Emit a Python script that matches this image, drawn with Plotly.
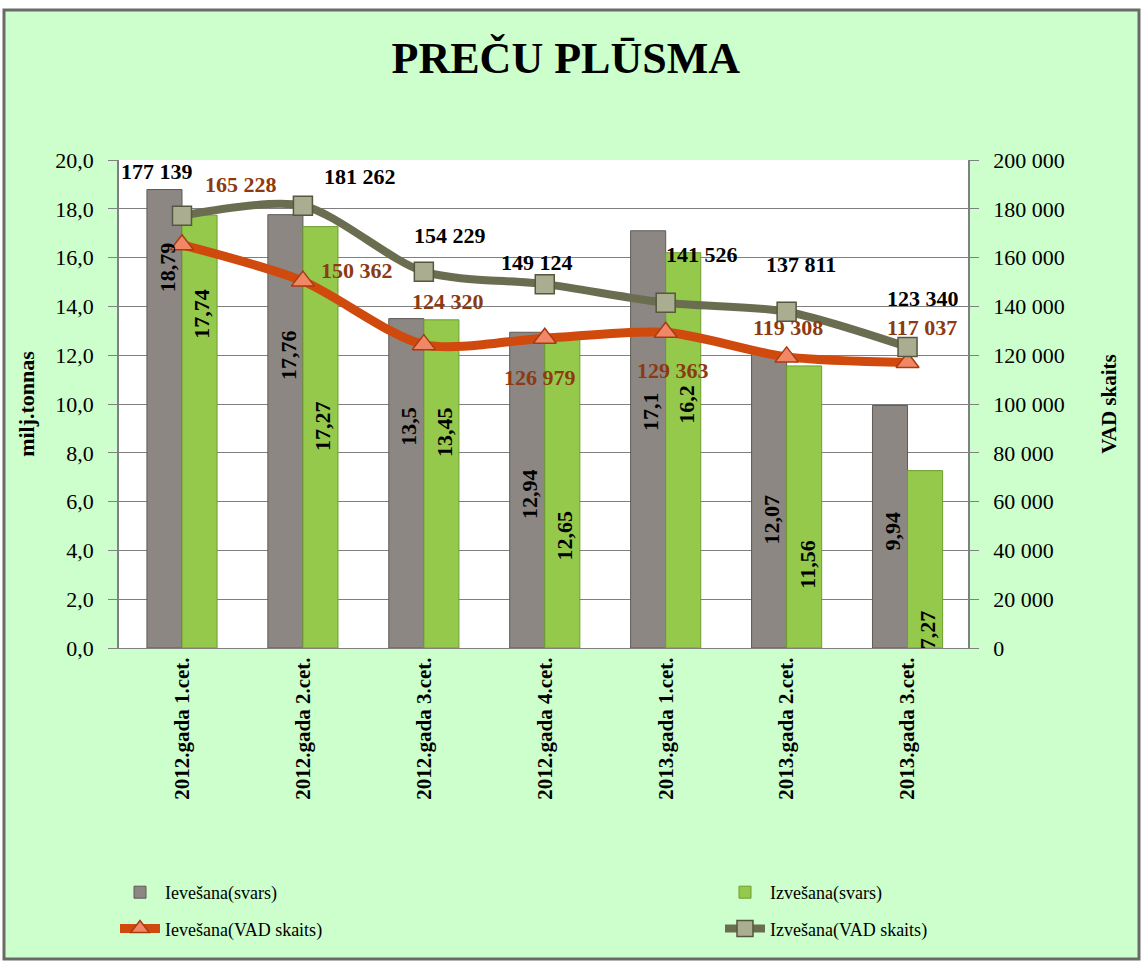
import plotly.graph_objects as go
from plotly.subplots import make_subplots

# ---------------- data ----------------
categories = ["2012.gada 1.cet.", "2012.gada 2.cet.", "2012.gada 3.cet.", "2012.gada 4.cet.",
              "2013.gada 1.cet.", "2013.gada 2.cet.", "2013.gada 3.cet."]
ieveshana_svars = [18.79, 17.76, 13.5, 12.94, 17.1, 12.07, 9.94]
izveshana_svars = [17.74, 17.27, 13.45, 12.65, 16.2, 11.56, 7.27]
ieveshana_vad = [165228, 150362, 124320, 126979, 129363, 119308, 117037]
izveshana_vad = [177139, 181262, 154229, 149124, 141526, 137811, 123340]

left_ticks = [0, 2, 4, 6, 8, 10, 12, 14, 16, 18, 20]
right_ticks = [0, 20000, 40000, 60000, 80000, 100000, 120000, 140000, 160000, 180000, 200000]

# ---------------- label placement (layout only) ----------------
gray_label_y = [15.6, 12.0, 9.1, 6.3, 9.7, 5.25, 4.8]
green_label_y = [13.7, 9.1, 8.85, 4.6, 10.0, 3.4, 0.75]
izv_vad_shift = [(-25, 44), (57, 29), (26, 36), (-8, 22), (36, 48), (14, 47), (15, 49)]
iev_vad_shift = [(59, 60), (54, 11), (24, 43), (-5, -39), (7, -38), (1, 29), (14, 35)]

SERIF = "Liberation Serif, Times New Roman, serif"
W, H = 1143, 961
L, R, T, B = 119, 175, 160, 313

def fmt_int(v):
    return f"{v:,}".replace(",", " ")

def fmt_dec(v):
    return f"{v:g}".replace(".", ",")

fig = make_subplots(specs=[[{"secondary_y": True}]])

fig.add_trace(go.Bar(x=categories, y=ieveshana_svars, name="Ievešana(svars)",
                     legend="legend", legendgroup="a",
                     marker=dict(color="#8C8782", line=dict(color="#5E5A56", width=1))),
              secondary_y=False)
fig.add_trace(go.Bar(x=categories, y=izveshana_svars, name="Izvešana(svars)",
                     legend="legend2", legendgroup="b",
                     marker=dict(color="#94C94C", line=dict(color="#6E9E2E", width=1))),
              secondary_y=False)
fig.add_trace(go.Scatter(x=categories, y=ieveshana_vad, name="Ievešana(VAD skaits)",
                         legend="legend", legendgroup="c",
                         mode="lines+markers",
                         line=dict(color="#D04A0E", width=9, shape="spline", smoothing=0.8),
                         marker=dict(symbol="triangle-up", size=20, color="#F08868",
                                     line=dict(color="#A83A10", width=1.5))),
              secondary_y=True)
fig.add_trace(go.Scatter(x=categories, y=izveshana_vad, name="Izvešana(VAD skaits)",
                         legend="legend2", legendgroup="d",
                         mode="lines+markers",
                         line=dict(color="#6B6D50", width=8, shape="spline", smoothing=0.8),
                         marker=dict(symbol="square", size=19, color="#ABAD90",
                                     line=dict(color="#55573E", width=1.5))),
              secondary_y=True)

LABEL_FONT = 22
annotations = []
for i, c in enumerate(categories):
    annotations.append(dict(x=c, y=gray_label_y[i], xref="x", yref="y", xshift=-15,
                            text=fmt_dec(ieveshana_svars[i]), textangle=-90, showarrow=False,
                            font=dict(family=SERIF, size=LABEL_FONT, color="black", weight="bold")))
    annotations.append(dict(x=c, y=green_label_y[i], xref="x", yref="y", xshift=20,
                            text=fmt_dec(izveshana_svars[i]), textangle=-90, showarrow=False,
                            font=dict(family=SERIF, size=LABEL_FONT, color="black", weight="bold")))
    dx, dy = izv_vad_shift[i]
    annotations.append(dict(x=c, y=izveshana_vad[i], xref="x", yref="y2", xshift=dx, yshift=dy,
                            text=fmt_int(izveshana_vad[i]), showarrow=False,
                            font=dict(family=SERIF, size=LABEL_FONT, color="black", weight="bold")))
    dx, dy = iev_vad_shift[i]
    annotations.append(dict(x=c, y=ieveshana_vad[i], xref="x", yref="y2", xshift=dx, yshift=dy,
                            text=fmt_int(ieveshana_vad[i]), showarrow=False,
                            font=dict(family=SERIF, size=LABEL_FONT, color="#8B3A12", weight="bold")))

pw, ph = W - L - R, H - T - B
def px_x(p):
    return (p - L) / pw
def px_y(p):
    return (H - B - p) / ph

shapes = [
    dict(type="rect", xref="paper", yref="paper", layer="below",
         x0=px_x(4), x1=px_x(1139), y0=px_y(10), y1=px_y(959),
         fillcolor="#CCFFCC", line=dict(color="#6A6A6A", width=3)),
    dict(type="rect", xref="paper", yref="paper", layer="below",
         x0=0, x1=1, y0=0, y1=1, fillcolor="white", line=dict(width=0)),
]

legend_common = dict(orientation="v", xanchor="left", yanchor="top",
                     bgcolor="rgba(0,0,0,0)", itemwidth=40, tracegroupgap=10,
                     font=dict(family=SERIF, size=18, color="black"))

fig.update_layout(
    width=W, height=H,
    margin=dict(l=L, r=R, t=T, b=B, autoexpand=False),
    paper_bgcolor="white",
    plot_bgcolor="rgba(0,0,0,0)",
    separators=", ",
    barmode="group", bargap=0.42, bargroupgap=0,
    title=dict(text="<b>PREČU PLŪSMA</b>", x=0.495, xanchor="center", yanchor="middle",
               y=1 - 58 / H, font=dict(family=SERIF, size=44, color="black")),
    font=dict(family=SERIF, color="black"),
    legend=dict(x=px_x(115), y=px_y(874), **legend_common),
    legend2=dict(x=px_x(720), y=px_y(874), **legend_common),
    annotations=annotations,
    shapes=shapes,
)

fig.update_xaxes(type="category", domain=[0, 1], tickangle=-90, showline=True,
                 linecolor="#808080", linewidth=1, ticks="", showgrid=False, automargin=False,
                 tickfont=dict(family=SERIF, size=21, color="black", weight="bold"))
fig.update_yaxes(range=[0, 20], tickvals=left_ticks, tickformat=".1f", automargin=False,
                 showline=True, linecolor="#808080", linewidth=1.5,
                 ticks="outside", ticklen=9, tickcolor="#808080", ticklabelstandoff=10,
                 showgrid=True, gridcolor="#7F7F7F", gridwidth=1, zeroline=False,
                 tickfont=dict(family=SERIF, size=22, color="black"),
                 title=dict(text="<b>milj.tonnas</b>", standoff=15,
                            font=dict(family=SERIF, size=22, color="black")),
                 secondary_y=False)
fig.update_yaxes(range=[0, 200000], tickvals=right_ticks, tickformat=",d", automargin=False,
                 showline=True, linecolor="#808080", linewidth=1.5,
                 ticks="outside", ticklen=9, tickcolor="#808080", ticklabelstandoff=10,
                 showgrid=False, zeroline=False,
                 tickfont=dict(family=SERIF, size=22, color="black"),
                 title=dict(text="<b>VAD skaits</b>", standoff=38,
                            font=dict(family=SERIF, size=21, color="black")),
                 secondary_y=True)

fig.write_html("out.html", config={"displayModeBar": False},
               post_script="document.body.style.margin='0';document.body.style.overflow='hidden';")
